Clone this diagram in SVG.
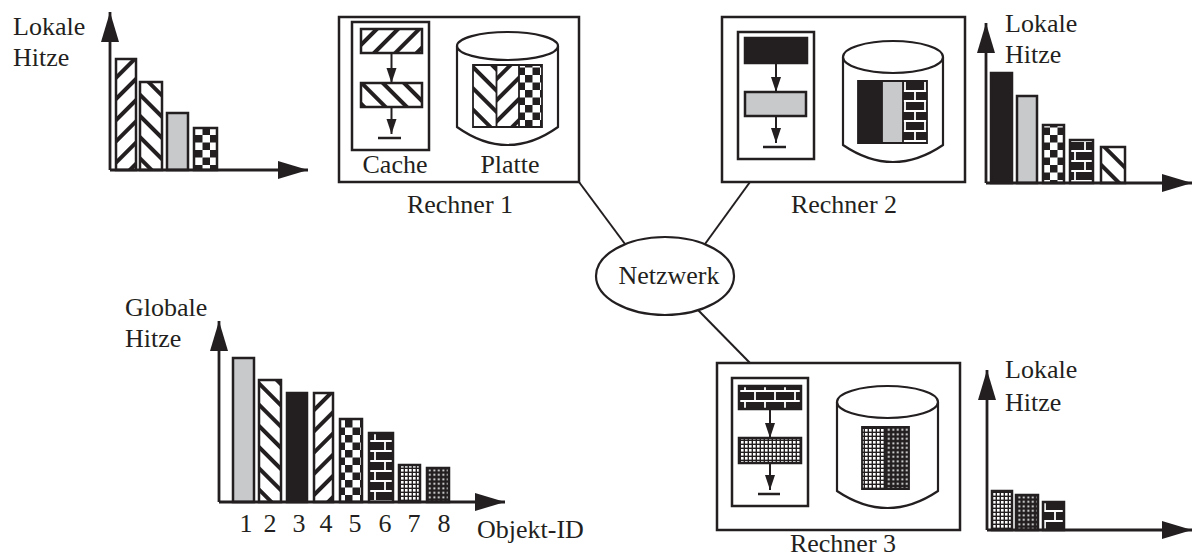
<svg xmlns="http://www.w3.org/2000/svg" width="1193" height="558" viewBox="0 0 1193 558">
  <style>
    text { font-family: "Liberation Serif", "DejaVu Serif", "Noto Serif", serif; font-size: 26px; fill: #231f20; }
    .mid { text-anchor: middle; }
    .box { fill: #fff; stroke: #231f20; stroke-width: 2.5; }
    .bar { stroke: #231f20; stroke-width: 2.5; }
    .axis { fill: none; stroke: #231f20; stroke-width: 2.8; marker-end: url(#bigHead); }
    .flow { fill: none; stroke: #231f20; stroke-width: 2; marker-end: url(#smallHead); }
    .ground { stroke: #231f20; stroke-width: 2.5; }
    .disk { fill: #fff; stroke: #231f20; stroke-width: 2.2; }
    .link { fill: none; stroke: #231f20; stroke-width: 2; }
    .gray { fill: #c8c9ca; }
    .black { fill: #231f20; }
  </style>
  <defs>
    <marker id="bigHead" markerUnits="userSpaceOnUse" markerWidth="31" markerHeight="18" refX="30" refY="9" orient="auto" overflow="visible">
      <path d="M0,0 L30,9 L0,18 Z" fill="#231f20"/>
    </marker>
    <marker id="smallHead" markerUnits="userSpaceOnUse" markerWidth="16" markerHeight="11" refX="15" refY="5" orient="auto" overflow="visible">
      <path d="M0,0 L15,5 L0,10 Z" fill="#231f20"/>
    </marker>
    <!-- "/" hatching -->
    <pattern id="pUp" patternUnits="userSpaceOnUse" width="15" height="15" patternTransform="rotate(45)">
      <rect width="15" height="15" fill="#fff"/>
      <rect width="4" height="15" fill="#231f20"/>
    </pattern>
    <!-- "\" hatching -->
    <pattern id="pDown" patternUnits="userSpaceOnUse" width="15" height="15" patternTransform="rotate(-45)">
      <rect width="15" height="15" fill="#fff"/>
      <rect width="4" height="15" fill="#231f20"/>
    </pattern>
    <pattern id="pCheck" patternUnits="userSpaceOnUse" width="15" height="15">
      <rect width="15" height="15" fill="#fff"/>
      <rect width="7.5" height="7.5" fill="#231f20"/>
      <rect x="7.5" y="7.5" width="7.5" height="7.5" fill="#231f20"/>
    </pattern>
    <pattern id="pBrick" patternUnits="userSpaceOnUse" width="20" height="20">
      <rect width="20" height="20" fill="#231f20"/>
      <path d="M0,1 H20 M0,11 H20 M5,1 V11 M15,11 V21" stroke="#fff" stroke-width="1.8"/>
    </pattern>
    <pattern id="pDotL" patternUnits="userSpaceOnUse" width="4" height="4">
      <rect width="4" height="4" fill="#231f20"/>
      <rect x="1" y="1" width="2.6" height="2.6" fill="#fff"/>
    </pattern>
    <pattern id="pDotD" patternUnits="userSpaceOnUse" width="4.5" height="4.5">
      <rect width="4.5" height="4.5" fill="#231f20"/>
      <rect x="1.4" y="1.4" width="1.8" height="1.8" fill="#fff"/>
    </pattern>
  </defs>

  <!-- network links -->
  <g id="connectors">
    <line class="link" x1="579" y1="182" x2="625" y2="244"/>
    <line class="link" x1="750" y1="182" x2="705" y2="244"/>
    <line class="link" x1="698" y1="310" x2="750" y2="363"/>
  </g>

  <!-- local heat, computer 1 -->
  <g id="chart-local-1">
    <text x="13" y="35">Lokale</text>
    <text x="13" y="66">Hitze</text>
    <rect class="bar" x="116" y="59" width="20" height="111" fill="url(#pUp)"/>
    <rect class="bar" x="140" y="82" width="22" height="88" fill="url(#pDown)"/>
    <rect class="bar gray" x="167" y="113" width="21" height="57"/>
    <rect class="bar" x="194" y="128" width="23" height="42" fill="url(#pCheck)"/>
    <path class="axis" d="M110,170 V12"/>
    <path class="axis" d="M110,170 H308"/>
  </g>

  <!-- computer 1 -->
  <g id="rechner-1">
    <rect class="box" x="339" y="17" width="240" height="165"/>
    <rect class="box" x="352" y="22" width="77" height="128"/>
    <rect class="bar" x="361" y="29" width="61" height="24" fill="url(#pUp)"/>
    <line class="flow" x1="391.5" y1="53" x2="391.5" y2="83"/>
    <rect class="bar" x="361" y="83" width="61" height="24" fill="url(#pDown)"/>
    <line class="flow" x1="391.5" y1="107" x2="391.5" y2="134"/>
    <line class="ground" x1="378" y1="138" x2="401" y2="138"/>
    <text class="mid" x="395" y="173">Cache</text>
    <path class="disk" d="M457,46 V127 Q507.5,163 558,127 V46"/>
    <ellipse class="disk" cx="507.5" cy="46" rx="50.5" ry="14"/>
    <rect x="473" y="65" width="23.5" height="62" fill="url(#pDown)"/>
    <rect x="496.5" y="65" width="22.5" height="62" fill="url(#pUp)"/>
    <rect x="519" y="65" width="23" height="62" fill="url(#pCheck)"/>
    <path d="M473,65 H542 V127 H473 Z M496.5,65 V127 M519,65 V127" fill="none" stroke="#231f20" stroke-width="1.8"/>
    <text class="mid" x="510" y="173">Platte</text>
    <text class="mid" x="460" y="213">Rechner 1</text>
  </g>

  <!-- computer 2 -->
  <g id="rechner-2">
    <rect class="box" x="722" y="17" width="243" height="165"/>
    <rect class="box" x="738" y="32" width="76" height="127"/>
    <rect class="bar black" x="745" y="38" width="62" height="25"/>
    <line class="flow" x1="776" y1="63" x2="776" y2="92"/>
    <rect class="bar gray" x="745" y="92" width="61" height="24"/>
    <line class="flow" x1="776" y1="116" x2="776" y2="143"/>
    <line class="ground" x1="763" y1="147" x2="786" y2="147"/>
    <path class="disk" d="M843,57 V145 Q893,179 943,145 V57"/>
    <ellipse class="disk" cx="893" cy="57" rx="50" ry="16"/>
    <rect x="858" y="81" width="24" height="62" class="black"/>
    <rect x="882" y="81" width="21" height="62" class="gray"/>
    <rect x="903" y="81" width="24" height="62" fill="url(#pBrick)"/>
    <path d="M858,81 H927 V143 H858 Z M882,81 V143 M903,81 V143" fill="none" stroke="#231f20" stroke-width="1.8"/>
    <text class="mid" x="844" y="213">Rechner 2</text>
  </g>

  <!-- local heat, computer 2 -->
  <g id="chart-local-2">
    <text x="1005" y="32">Lokale</text>
    <text x="1005" y="63">Hitze</text>
    <rect class="bar black" x="991" y="73" width="21" height="110"/>
    <rect class="bar gray" x="1017" y="96" width="20" height="87"/>
    <rect class="bar" x="1043" y="125" width="21" height="58" fill="url(#pCheck)"/>
    <rect class="bar" x="1070" y="140" width="23" height="43" fill="url(#pBrick)"/>
    <rect class="bar" x="1101" y="147" width="24" height="36" fill="url(#pDown)"/>
    <path class="axis" d="M986,183 V23"/>
    <path class="axis" d="M986,183 H1192"/>
  </g>

  <!-- network -->
  <g id="netzwerk">
    <ellipse cx="665" cy="276" rx="69" ry="39" fill="#fff" stroke="#231f20" stroke-width="2.2"/>
    <text class="mid" x="669" y="284">Netzwerk</text>
  </g>

  <!-- global heat -->
  <g id="chart-global">
    <text x="125" y="316">Globale</text>
    <text x="125" y="347">Hitze</text>
    <rect class="bar gray" x="233" y="358" width="21" height="144"/>
    <rect class="bar" x="259" y="380" width="22" height="122" fill="url(#pDown)"/>
    <rect class="bar black" x="287" y="393" width="20" height="109"/>
    <rect class="bar" x="314" y="393" width="19" height="109" fill="url(#pUp)"/>
    <rect class="bar" x="340" y="419" width="22" height="83" fill="url(#pCheck)"/>
    <rect class="bar" x="369" y="433" width="24" height="69" fill="url(#pBrick)"/>
    <rect class="bar" x="399" y="465" width="21" height="37" fill="url(#pDotL)"/>
    <rect class="bar" x="427" y="468" width="22" height="34" fill="url(#pDotD)"/>
    <path class="axis" d="M219,502 V321"/>
    <path class="axis" d="M219,502 H505"/>
    <text class="mid" x="246" y="532">1</text>
    <text class="mid" x="270" y="532">2</text>
    <text class="mid" x="299" y="532">3</text>
    <text class="mid" x="326" y="532">4</text>
    <text class="mid" x="355" y="532">5</text>
    <text class="mid" x="385" y="532">6</text>
    <text class="mid" x="414" y="532">7</text>
    <text class="mid" x="444" y="532">8</text>
    <text x="477" y="538">Objekt-ID</text>
  </g>

  <!-- computer 3 -->
  <g id="rechner-3">
    <rect class="box" x="717" y="363" width="243" height="167"/>
    <rect class="box" x="732" y="378" width="76" height="128"/>
    <rect class="bar" x="739" y="386" width="62" height="23" fill="url(#pBrick)"/>
    <line class="flow" x1="770" y1="409" x2="770" y2="438"/>
    <rect class="bar" x="739" y="438" width="62" height="25" fill="url(#pDotL)"/>
    <line class="flow" x1="770" y1="463" x2="770" y2="490"/>
    <line class="ground" x1="758" y1="494" x2="780" y2="494"/>
    <path class="disk" d="M837,402 V491 Q887.5,525 938,491 V402"/>
    <ellipse class="disk" cx="887.5" cy="402" rx="50.5" ry="16"/>
    <rect x="862" y="427" width="23" height="62" fill="url(#pDotL)"/>
    <rect x="885" y="427" width="24" height="62" fill="url(#pDotD)"/>
    <path d="M862,427 H909 V489 H862 Z M885,427 V489" fill="none" stroke="#231f20" stroke-width="1.8"/>
    <text class="mid" x="843" y="552">Rechner 3</text>
  </g>

  <!-- local heat, computer 3 -->
  <g id="chart-local-3">
    <text x="1005" y="378">Lokale</text>
    <text x="1005" y="411">Hitze</text>
    <rect class="bar" x="992" y="491" width="20" height="39" fill="url(#pDotL)"/>
    <rect class="bar" x="1016" y="495" width="22" height="35" fill="url(#pDotD)"/>
    <rect class="bar" x="1043" y="502" width="21" height="28" fill="url(#pBrick)"/>
    <path class="axis" d="M987,530 V370"/>
    <path class="axis" d="M987,530 H1192"/>
  </g>
</svg>
